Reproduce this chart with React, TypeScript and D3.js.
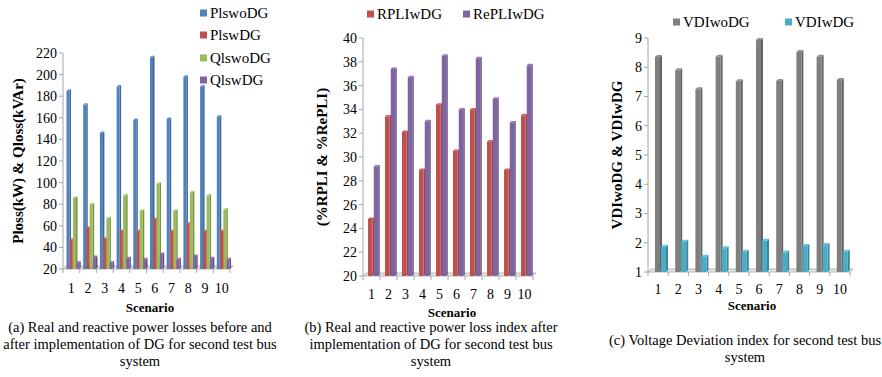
import React, { useRef, useEffect } from 'react';
import * as d3 from 'd3';

const scenarios = ['1', '2', '3', '4', '5', '6', '7', '8', '9', '10'];

// (a) losses
const plswoDG = [185, 172, 146, 189, 158, 216, 159, 198, 189, 161];
const plswDG = [47, 58, 48, 55, 55, 66, 55, 62, 55, 55];
const qlswoDG = [86, 80, 67, 88, 74, 99, 74, 91, 88, 75];
const qlswDG = [26, 31, 26, 30, 29, 34, 29, 32, 30, 29];
const ticksA = [20, 40, 60, 80, 100, 120, 140, 160, 180, 200, 220];

// (b) loss index
const rpliwDG = [24.8, 33.4, 32.1, 28.9, 34.4, 30.5, 34.0, 31.3, 28.9, 33.5];
const repliwDG = [29.2, 37.4, 36.7, 33.0, 38.5, 34.0, 38.3, 34.9, 32.9, 37.7];
const ticksB = [20, 22, 24, 26, 28, 30, 32, 34, 36, 38, 40];

// (c) voltage deviation
const vdiwoDG = [8.35, 7.9, 7.25, 8.36, 7.52, 8.93, 7.53, 8.52, 8.36, 7.56];
const vdiwDG = [1.86, 2.03, 1.52, 1.81, 1.69, 2.07, 1.67, 1.89, 1.92, 1.69];
const ticksC = [1, 2, 3, 4, 5, 6, 7, 8, 9];

const FONT = "'Liberation Serif', 'Times New Roman', serif";

const panels = [
  {
    left: 63, right: 230, top: 53, bottom: 269,
    domain: [20, 220], ticks: ticksA,
    series: [
      { name: 'PlswoDG', values: plswoDG, color: '#4F81BD' },
      { name: 'PlswDG', values: plswDG, color: '#C0504D' },
      { name: 'QlswoDG', values: qlswoDG, color: '#9BBB59' },
      { name: 'QlswDG', values: qlswDG, color: '#8064A2' },
    ],
    inner: [3.5, 16.5], barW: 3, depth: 1.5,
    legend: [[200, 13], [200, 35], [200, 58], [200, 80]],
    yTitle: 'Ploss(kW) & Qloss(kVAr)', yTitleX: 18,
    xLabelY: 288, xTitle: [150, 307],
    caption: ['(a) Real and reactive power losses before and', 'after implementation of DG for second test bus', 'system'],
    capX: 140, capY: [327, 344, 361],
  },
  {
    left: 363, right: 533, top: 38, bottom: 276,
    domain: [20, 40], ticks: ticksB,
    series: [
      { name: 'RPLIwDG', values: rpliwDG, color: '#C0504D' },
      { name: 'RePLIwDG', values: repliwDG, color: '#8064A2' },
    ],
    inner: [5, 16.5], barW: 4.5, depth: 1.5,
    legend: [[367, 14], [463, 14]],
    yTitle: '(%RPLI & %RePLI)', yTitleX: 322,
    xLabelY: 294, xTitle: [452, 312],
    caption: ['(b) Real and reactive power loss index after', 'implementation of DG for second test bus', 'system'],
    capX: 431, capY: [327, 344, 361],
  },
  {
    left: 648, right: 850, top: 38, bottom: 272,
    domain: [1, 9], ticks: ticksC,
    series: [
      { name: 'VDIwoDG', values: vdiwoDG, color: '#7F7F7F' },
      { name: 'VDIwDG', values: vdiwDG, color: '#4BACC6' },
    ],
    inner: [7, 19], barW: 5, depth: 2,
    legend: [[673, 22], [785, 22]],
    yTitle: 'VDIwoDG & VDIwDG', yTitleX: 617,
    xLabelY: 289, xTitle: [752, 305],
    caption: ['(c) Voltage Deviation index for second test bus', 'system'],
    capX: 745, capY: [340, 357],
  },
];

const App = () => {
  const svgRef = useRef(null);

  useEffect(() => {
    const svg = d3.select(svgRef.current);
    svg.selectAll('g').remove();

    panels.forEach((p) => {
      const g = svg.append('g');
      const y = d3.scaleLinear().domain(p.domain).range([p.bottom, p.top]);
      const x = d3.scaleBand().domain(scenarios).range([p.left, p.right]);
      const xs = d3.scaleBand().domain(p.series.map((s) => s.name)).range(p.inner);
      const fd = 3;

      // floor
      g.append('polygon')
        .attr('points', [[p.left, p.bottom], [p.left + fd, p.bottom - fd], [p.right + fd, p.bottom - fd], [p.right, p.bottom]].join(' '))
        .style('fill', '#e6e6e6')
        .style('stroke', '#a6a6a6')
        .style('stroke-width', 0.8);

      // y axis
      g.append('line')
        .attr('x1', p.left).attr('x2', p.left)
        .attr('y1', p.top).attr('y2', p.bottom)
        .style('stroke', '#a6a6a6');
      g.selectAll('.yt')
        .data(p.ticks)
        .enter()
        .append('line')
        .attr('x1', p.left - 4).attr('x2', p.left)
        .attr('y1', (d) => y(d)).attr('y2', (d) => y(d))
        .style('stroke', '#a6a6a6');
      g.selectAll('.yl')
        .data(p.ticks)
        .enter()
        .append('text')
        .attr('x', p.left - 6)
        .attr('y', (d) => y(d))
        .attr('dy', '0.35em')
        .attr('text-anchor', 'end')
        .style('font-family', FONT)
        .style('font-size', '14px')
        .style('fill', '#000')
        .text((d) => d);

      // x ticks + labels
      const bounds = scenarios.map((c) => x(c)).concat([p.right]);
      g.selectAll('.xt')
        .data(bounds)
        .enter()
        .append('line')
        .attr('x1', (d) => d).attr('x2', (d) => d)
        .attr('y1', p.bottom).attr('y2', p.bottom + 4)
        .style('stroke', '#a6a6a6');
      g.selectAll('.xl')
        .data(scenarios)
        .enter()
        .append('text')
        .attr('x', (d) => x(d) + x.bandwidth() / 2)
        .attr('y', p.xLabelY)
        .attr('dy', '0.35em')
        .attr('text-anchor', 'middle')
        .style('font-family', FONT)
        .style('font-size', '14px')
        .text((d) => d);

      // bars (3d look)
      p.series.forEach((s) => {
        const c = d3.color(s.color);
        const side = c.darker(0.7).toString();
        const topc = c.brighter(0.4).toString();
        const bars = g.append('g');
        s.values.forEach((v, i) => {
          const bx = x(scenarios[i]) + xs(s.name);
          const by = y(v);
          const w = p.barW;
          const d = p.depth;
          bars.append('polygon')
            .attr('points', [[bx + w, by], [bx + w + d, by - d], [bx + w + d, p.bottom - d], [bx + w, p.bottom]].join(' '))
            .style('fill', side);
          bars.append('polygon')
            .attr('points', [[bx, by], [bx + d, by - d], [bx + w + d, by - d], [bx + w, by]].join(' '))
            .style('fill', topc);
          bars.append('rect')
            .attr('x', bx).attr('y', by)
            .attr('width', w).attr('height', p.bottom - by)
            .style('fill', s.color);
        });
      });

      // legend
      p.series.forEach((s, i) => {
        const [lx, ly] = p.legend[i];
        g.append('rect')
          .attr('x', lx).attr('y', ly - 3.5)
          .attr('width', 7).attr('height', 7)
          .style('fill', s.color);
        g.append('text')
          .attr('x', lx + 10).attr('y', ly)
          .attr('dy', '0.35em')
          .style('font-family', FONT)
          .style('font-size', '15px')
          .text(s.name);
      });

      // axis titles
      g.append('text')
        .attr('transform', `translate(${p.yTitleX}, ${(p.top + p.bottom) / 2}) rotate(-90)`)
        .attr('dy', '0.35em')
        .attr('text-anchor', 'middle')
        .style('font-family', FONT)
        .style('font-weight', 'bold')
        .style('font-size', '15px')
        .text(p.yTitle);
      g.append('text')
        .attr('x', p.xTitle[0]).attr('y', p.xTitle[1])
        .attr('dy', '0.35em')
        .attr('text-anchor', 'middle')
        .style('font-family', FONT)
        .style('font-weight', 'bold')
        .style('font-size', '13px')
        .text('Scenario');

      // caption
      p.caption.forEach((line, i) => {
        g.append('text')
          .attr('x', p.capX).attr('y', p.capY[i])
          .attr('dy', '0.35em')
          .attr('text-anchor', 'middle')
          .style('font-family', FONT)
          .style('font-size', '14.5px')
          .text(line);
      });
    });
  }, []);

  return (
    <svg ref={svgRef} width={882} height={377}
      style={{ position: 'absolute', left: 0, top: 0, background: '#fff' }} />
  );
};

export default App;
